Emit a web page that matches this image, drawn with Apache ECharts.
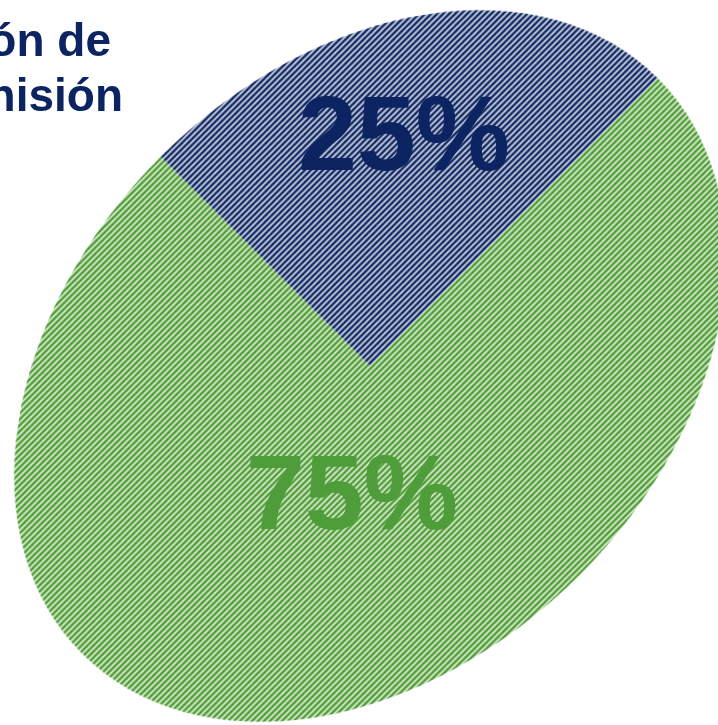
<!DOCTYPE html>
<html>
<head>
<meta charset="utf-8">
<script src="https://cdn.jsdelivr.net/npm/echarts@6/dist/echarts.min.js"></script>
<style>
  html, body { margin: 0; padding: 0; background: #ffffff; overflow: hidden; width: 718px; height: 725px; }
  #pie { position: absolute; left: 70px; top: 66px; width: 600px; height: 600px;
         transform-origin: 300px 300px;
         transform: rotate(-45deg) scale(1.375, 1) rotate(45deg); }
  #overlay { position: absolute; left: 0; top: 0; width: 718px; height: 725px; pointer-events: none; }
</style>
</head>
<body>
<div id="pie"></div>
<div id="overlay"></div>
<script>
// ---- data ----
const categories = ['Segmento A', 'Segmento B'];
const values = [25, 75];
const sliceColors = ['#08215f', '#4a9a2e'];
const labelColors = ['#0c2461', '#4f9d3a'];
const titleLines = ['ón de', 'nisión'];

// ---- hatch pattern tile ----
function stripeTile(hex) {
  const s = 12, per = 6, ss = 4;
  const c = document.createElement('canvas');
  c.width = s; c.height = s;
  const ctx = c.getContext('2d');
  const img = ctx.createImageData(s, s);
  const r = parseInt(hex.slice(1, 3), 16), g = parseInt(hex.slice(3, 5), 16), b = parseInt(hex.slice(5, 7), 16);
  for (let y = 0; y < s; y++) {
    for (let x = 0; x < s; x++) {
      let acc = 0;
      for (let i = 0; i < ss; i++) for (let j = 0; j < ss; j++) {
        const px = x + (i + 0.5) / ss, py = y + (j + 0.5) / ss;
        const u = ((px + py) % per) / per;
        const d = Math.abs(u - 0.5);          // distance from band centre
        let v = (0.32 - d) / 0.12 + 0.5;      // colored band ~60%, soft edges
        v = Math.min(1, Math.max(0, v));
        acc += v;
      }
      const w = acc / (ss * ss);
      const k = (y * s + x) * 4;
      img.data[k] = Math.round(255 * (1 - w) + r * w);
      img.data[k + 1] = Math.round(255 * (1 - w) + g * w);
      img.data[k + 2] = Math.round(255 * (1 - w) + b * w);
      img.data[k + 3] = 255;
    }
  }
  ctx.putImageData(img, 0, 0);
  return c;
}

// ---- pie (circle, stretched into the tilted ellipse by CSS) ----
const pieChart = echarts.init(document.getElementById('pie'), null, { renderer: 'canvas', devicePixelRatio: 2 });
pieChart.setOption({
  animation: false,
  series: [{
    type: 'pie',
    center: ['50%', '50%'],
    radius: 296,
    startAngle: 135,
    clockwise: true,
    silent: true,
    label: { show: false },
    labelLine: { show: false },
    emphasis: { disabled: true },
    data: categories.map((name, i) => ({
      name: name,
      value: values[i],
      itemStyle: { color: { image: stripeTile(sliceColors[i]), repeat: 'repeat' }, borderWidth: 0 }
    }))
  }]
});

// ---- texts ----
const total = values.reduce((a, b) => a + b, 0);
const pct = values.map(v => Math.round(v / total * 100) + '%');
const labelPos = [[404, 133], [352, 492]];
const textFont = '"Liberation Sans", Arial, sans-serif';

const overlay = echarts.init(document.getElementById('overlay'), null, { renderer: 'svg' });
const graphics = [];
const titleRight = [111, 123];
titleLines.forEach((t, i) => {
  graphics.push({
    type: 'text', x: titleRight[i], y: 63 + i * 55,
    style: { text: t, fill: '#0c2461', font: 'bold 46px ' + textFont, textAlign: 'right', textVerticalAlign: 'bottom' }
  });
});
pct.forEach((t, i) => {
  graphics.push({
    type: 'text', x: labelPos[i][0], y: labelPos[i][1],
    style: { text: t, fill: labelColors[i], font: 'bold 106px ' + textFont, textAlign: 'center', textVerticalAlign: 'middle' }
  });
});
overlay.setOption({ animation: false, graphic: graphics });
</script>
</body>
</html>
